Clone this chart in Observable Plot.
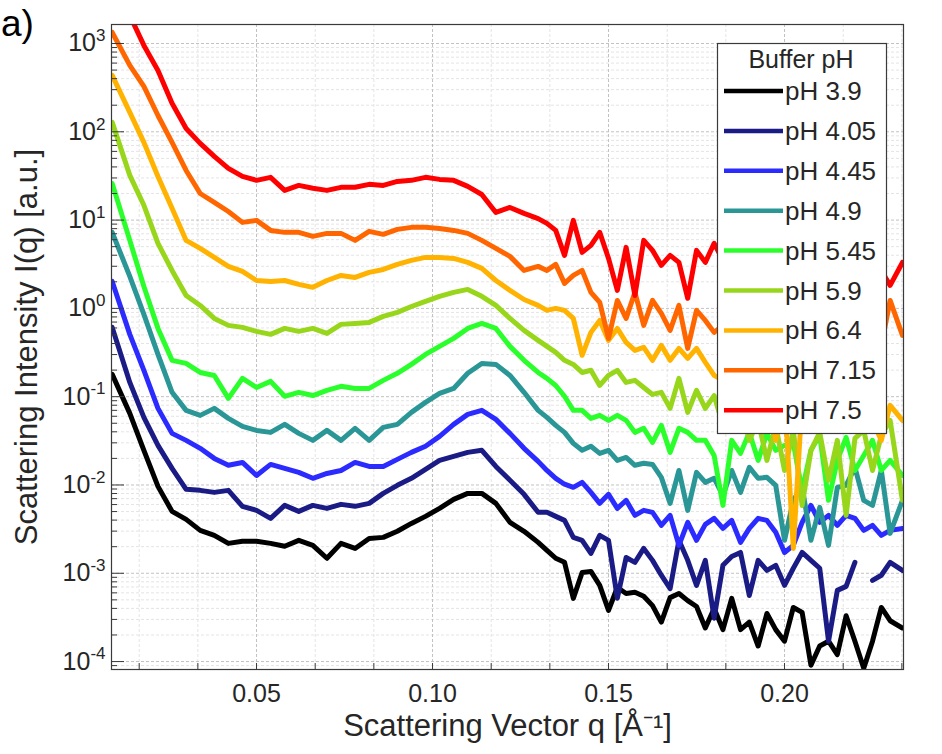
<!DOCTYPE html>
<html><head><meta charset="utf-8">
<script src="https://cdn.jsdelivr.net/npm/d3@7"></script>
<script src="https://cdn.jsdelivr.net/npm/@observablehq/plot@0.6"></script>
<style>
html,body{margin:0;padding:0;background:#fff;}
#chart{position:relative;width:942px;height:754px;overflow:hidden;}
</style></head><body><div id="chart"></div>
<script>
// scattering vector q [1/Å]
const q = [0.009,0.014,0.018,0.022,0.026,0.030,0.034,0.038,0.042,0.046,0.050,0.054,0.058,0.062,0.066,0.070,0.074,0.078,0.082,0.086,0.090,0.094,0.098,0.102,0.106,0.110,0.114,0.118,0.122,0.126,0.130,
 0.1325,0.135,0.1375,0.140,0.1425,0.145,0.1475,0.150,0.1525,0.155,0.1575,0.160,0.1625,0.165,0.1675,0.170,0.1725,0.175,0.1775,0.180,0.1825,0.185,0.1875,0.190,0.1925,0.195,0.1975,0.200,0.2025,0.205,0.2075,0.210,0.2125,0.215,0.2175,0.220,0.2225,0.225,0.2275,0.230,0.2335];

const pH39 = [0.179,0.0647,0.0247,0.00964,0.00502,0.00408,0.00306,0.00269,0.00218,0.00230,0.00230,0.00218,0.00202,0.00236,0.00207,0.00148,0.00218,0.00191,0.00248,0.00255,0.00299,0.00367,0.00441,0.00543,0.00687,0.00803,0.00803,0.00619,0.00377,0.00299,0.00224,
 0.00182,0.00148,0.00133,0.00052,0.00102,0.00105,0.00073,0.00038,0.00069,0.00059,0.00061,0.00055,0.00043,0.00028,0.00053,0.00059,0.00049,0.00042,0.00024,0.00040,0.00023,0.00052,0.00023,0.00028,0.00015,0.00035,0.00023,0.00017,0.00041,0.00036,0.000091,0.00015,0.00017,0.00012,0.00033,0.00017,0.000084,0.00017,0.00041,0.00029,0.00024];
const pH405 = [0.609,0.145,0.0583,0.0281,0.0154,0.00892,0.00869,0.00824,0.00869,0.00573,0.00516,0.00419,0.00587,0.00502,0.00587,0.00543,0.00603,0.00573,0.00619,0.00803,0.00990,0.0119,0.0150,0.0190,0.0211,0.0234,0.0247,0.0162,0.0113,0.00783,0.00490,
 0.00490,0.00441,0.00397,0.00255,0.00236,0.00168,0.00269,0.00236,0.00052,0.00151,0.00133,0.00191,0.00140,0.00095,0.00067,0.00236,0.00140,0.00073,0.00140,0.00031,0.00123,0.00155,0.00172,0.00056,0.00140,0.00108,0.00123,0.00073,0.00114,0.00172,0.00140,0.00114,0.00017,0.00064,0.00071,0.00133,null,0.00083,0.00095,0.00133,0.00108];
const pH445 = [2.02,0.508,0.199,0.0737,0.0384,0.0320,0.0260,0.0200,0.0167,0.0180,0.0128,0.0171,0.0154,0.0139,0.0119,0.0135,0.0146,0.0180,0.0162,0.0162,0.0195,0.0234,0.0274,0.0355,0.0486,0.0630,0.0700,0.0553,0.0384,0.0260,0.0185,
 0.0146,0.0119,0.0102,0.00940,0.0107,0.00824,0.00619,0.00783,0.00543,0.00670,0.00453,0.00516,0.00490,0.00349,0.00453,0.00207,0.00377,0.00236,0.00358,0.00419,0.00322,0.00397,0.00224,0.00322,0.00419,0.00397,0.00291,0.00172,0.00207,0.00377,0.00587,0.00377,0.00453,0.00349,0.00453,0.00419,0.00306,0.00349,0.00269,0.00306,0.00322];
const pH49 = [7.26,2.30,0.855,0.301,0.112,0.0700,0.0614,0.0737,0.0568,0.0461,0.0415,0.0394,0.0486,0.0384,0.0320,0.0415,0.0320,0.0438,0.0320,0.0449,0.0486,0.0664,0.0862,0.109,0.124,0.184,0.238,0.232,0.174,0.112,0.0700,
 0.0583,0.0473,0.0394,0.0296,0.0247,0.0274,0.0228,0.0247,0.0190,0.0205,0.0167,0.0176,0.0171,0.0122,0.00619,0.0146,0.00516,0.0139,0.0107,0.0119,0.00762,0.0146,0.00824,0.0158,0.0119,0.0122,0.00990,0.00236,0.00670,0.00964,0.00236,0.00557,0.00207,0.00940,0.00990,0.0158,0.00670,0.00587,0.0146,0.00283,0.00670];
const pH545 = [26.0,5.89,1.77,0.593,0.258,0.238,0.188,0.174,0.0957,0.161,0.127,0.149,0.101,0.112,0.103,0.118,0.131,0.124,0.124,0.153,0.184,0.232,0.301,0.371,0.457,0.593,0.676,0.593,0.371,0.258,0.188,
 0.161,0.134,0.101,0.0700,0.0700,0.0568,0.0614,0.0539,0.0614,0.0539,0.0394,0.0438,0.0304,0.0473,0.0234,0.0438,0.0394,0.0320,0.0320,0.0216,0.00587,0.0320,0.0228,0.0394,0.0190,0.0384,0.0247,0.0281,0.0296,0.00869,0.0247,0.0365,0.00670,0.0190,0.0346,0.0146,0.0216,0.0320,0.0146,0.0190,0.0128];
const pH59 = [128,32.1,14.7,5.45,2.69,1.40,1.08,0.770,0.642,0.609,0.549,0.508,0.593,0.549,0.593,0.521,0.659,0.676,0.694,0.811,0.901,1.05,1.20,1.37,1.52,1.64,1.37,1.08,0.770,0.563,0.434,
 0.371,0.318,0.258,0.232,0.188,0.199,0.134,0.174,0.199,0.145,0.153,0.127,0.106,0.112,0.0737,0.161,0.0664,0.118,0.0737,0.103,0.0473,0.0415,0.0862,0.0320,0.0539,0.0190,0.0473,0.0146,0.0415,0.00587,0.0247,0.0394,0.0113,0.0320,0.00453,0.0337,0.0415,0.0146,0.0365,0.0539,0.00670];
const pH64 = [435,166,75.9,31.2,13.6,5.89,4.78,3.78,2.99,2.62,2.07,2.02,2.07,1.87,1.73,2.07,2.36,2.24,2.56,2.76,3.15,3.50,3.78,3.78,3.68,3.32,2.84,2.07,1.60,1.26,1.08,
 0.949,1.0,0.949,0.770,0.294,0.535,0.731,0.434,0.593,0.412,0.334,0.362,0.258,0.381,0.258,0.352,0.272,0.352,0.245,0.174,0.153,0.153,0.118,0.174,0.103,0.134,0.0320,0.103,0.00191,0.0908,0.118,0.0700,0.103,0.0539,0.0908,0.0700,0.103,0.0539,0.0320,0.0798,0.0539];
const pH715 = [1336,565,327,153,75.9,36.5,20.0,15.9,12.5,9.42,9.93,7.64,7.26,7.26,6.54,7.07,7.07,5.89,7.45,6.89,7.85,8.27,8.27,8.05,7.64,7.07,5.89,4.78,3.88,2.69,2.99,
 2.69,3.15,1.92,2.36,2.69,1.52,1.17,0.457,1.23,0.770,1.52,0.642,1.23,0.878,0.563,1.08,0.352,0.949,0.731,0.535,0.642,0.563,0.731,0.434,0.563,0.381,0.494,0.334,0.434,0.294,0.381,0.258,0.334,0.381,0.258,0.334,0.226,0.294,0.381,1.23,0.494];
const pH75 = [4920,2080,951,495,210,109,73.9,52.6,38.5,31.2,28.2,30.5,21.7,24.7,22.9,21.7,23.5,23.5,25.4,24.7,27.4,28.2,30.5,28.9,28.2,24.1,19.5,12.2,13.9,11.9,10.4,
 9.17,7.64,3.98,9.93,4.31,5.17,7.26,3.68,1.60,4.91,1.40,5.89,4.54,3.07,3.98,3.32,1.30,4.54,3.32,5.45,3.50,2.69,4.54,2.36,3.98,2.07,3.50,2.69,3.98,1.82,3.50,2.36,3.07,1.60,3.50,2.36,3.07,2.07,2.69,1.82,3.32];

const seriesNames = ["pH 3.9","pH 4.05","pH 4.45","pH 4.9","pH 5.45","pH 5.9","pH 6.4","pH 7.15","pH 7.5"];
const seriesValues = [pH39,pH405,pH445,pH49,pH545,pH59,pH64,pH715,pH75];
const seriesColors = ["#000000","#1b1b86","#2b2bff","#2a9696","#2bff2b","#97d61b","#ffb300","#ff6600","#ff0000"];
const legendTitle = "Buffer pH";

const yMajorTicks = [1e-4,1e-3,1e-2,1e-1,1,10,100,1000];
const xLabelTicks = [0.05,0.10,0.15,0.20];
const xMinorTicks = [0.016667,0.033333,0.066667,0.083333,0.116667,0.133333,0.166667,0.183333,0.216667,0.233333];
const xLabel = "Scattering Vector q [Å⁻¹]";
const yLabel = "Scattering Intensity I(q) [a.u.]";
const panelTag = "a)";

const xDomain = [0.0088, 0.2338];
const yDomain = [8.13e-5, 1641];

const yMinorTicks = [];
for (const d of [1e-5,1e-4,1e-3,1e-2,1e-1,1,10,100,1000]) for (let k = 2; k <= 9; k++) {
  const v = +(k * d).toPrecision(3);
  if (v >= yDomain[0] && v <= yDomain[1]) yMinorTicks.push(v);
}
const xAllTicks = [...xMinorTicks, ...xLabelTicks].sort((a,b)=>a-b);

const rows = [];
seriesNames.forEach((name, i) => {
  seriesValues[i].forEach((v, j) => rows.push({q: q[j], I: v == null ? NaN : v, s: name}));
});

const ink = "#262626";
const font = "'Liberation Sans', Arial, Helvetica, sans-serif";

const lineMarks = seriesNames.map((name, i) =>
  Plot.line(rows.filter(r => r.s === name), {x: "q", y: "I", stroke: seriesColors[i], strokeWidth: 5, strokeLinejoin: "round", clip: true})
);

const plot = Plot.plot({
  width: 942, height: 754,
  marginLeft: 111, marginRight: 39, marginTop: 24, marginBottom: 85,
  style: {fontFamily: font, color: ink, background: "#fff", overflow: "visible"},
  x: {type: "linear", domain: xDomain},
  y: {type: "log", domain: yDomain},
  marks: [
    Plot.gridX(xMinorTicks, {stroke: "#e4e4e4", strokeOpacity: 1, strokeDasharray: "3,2"}),
    Plot.gridY(yMinorTicks, {stroke: "#e4e4e4", strokeOpacity: 1, strokeDasharray: "3,2"}),
    Plot.gridX(xLabelTicks, {stroke: "#c2c2c2", strokeOpacity: 1, strokeDasharray: "3,2"}),
    Plot.gridY(yMajorTicks, {stroke: "#c2c2c2", strokeOpacity: 1, strokeDasharray: "3,2"}),
    ...lineMarks,
    Plot.frame({stroke: "#3a3a3a", strokeWidth: 1.2}),
    Plot.axisY(yMajorTicks, {anchor: "left", tickSize: 13, dx: 13, fill: "none", stroke: "#3a3a3a", label: null}),
    Plot.axisY(yMinorTicks, {anchor: "left", tickSize: 6, dx: 6, fill: "none", stroke: "#3a3a3a", label: null}),
    Plot.axisY(yMajorTicks, {anchor: "left", tickSize: 0, tickPadding: 6, fontSize: 25, fill: ink,
      tickFormat: d => "10^" + Math.round(Math.log10(d)), label: null}),
    Plot.axisX(xAllTicks, {anchor: "bottom", tickSize: 6, dy: -6, fill: "none", stroke: "#3a3a3a", label: null}),
    Plot.axisX(xLabelTicks, {anchor: "bottom", tickSize: 0, tickPadding: 15, fontSize: 25, fill: ink,
      tickFormat: d3.format(".2f"), label: null}),
    Plot.text([xLabel], {text: d => d, frameAnchor: "bottom", dy: 66, lineAnchor: "bottom", fontSize: 31, fill: ink}),
    Plot.text([yLabel], {text: d => d, frameAnchor: "left", rotate: -90, dx: -75, lineAnchor: "bottom", textAnchor: "middle", fontSize: 31, fill: ink})
  ]
});

document.getElementById("chart").appendChild(plot);

// superscript exponents on y tick labels
d3.select(plot).selectAll('g[aria-label="y-axis tick label"] text').each(function() {
  const t = this.textContent;
  if (!t.includes("^")) return;
  const [base, exp] = t.split("^");
  this.textContent = base;
  d3.select(this).append("tspan").attr("dy", "-0.6em").attr("font-size", "17px").text(exp);
});

const svg = d3.select(plot);
// panel tag
svg.append("text").attr("x", 1).attr("y", 36).attr("font-size", 37).attr("fill", "#000")
  .attr("text-anchor", "start").attr("font-family", font).text(panelTag);

// legend
const lg = svg.append("g").attr("font-family", font).attr("text-anchor", "start");
lg.append("rect").attr("x", 717.5).attr("y", 43.5).attr("width", 169).attr("height", 390)
  .attr("fill", "#fff").attr("stroke", "#3a3a3a").attr("stroke-width", 1.2);
lg.append("text").attr("x", 801).attr("y", 68).attr("text-anchor", "middle").attr("font-size", 25)
  .attr("fill", ink).text(legendTitle);
seriesNames.forEach((name, i) => {
  const cy = 91 + i * 39.9;
  lg.append("line").attr("x1", 724).attr("x2", 783).attr("y1", cy).attr("y2", cy)
    .attr("stroke", seriesColors[i]).attr("stroke-width", 4.5);
  lg.append("text").attr("x", 785).attr("y", cy + 9).attr("text-anchor", "start").attr("font-size", 26)
    .attr("fill", ink).text(name);
});
</script>
</body></html>
